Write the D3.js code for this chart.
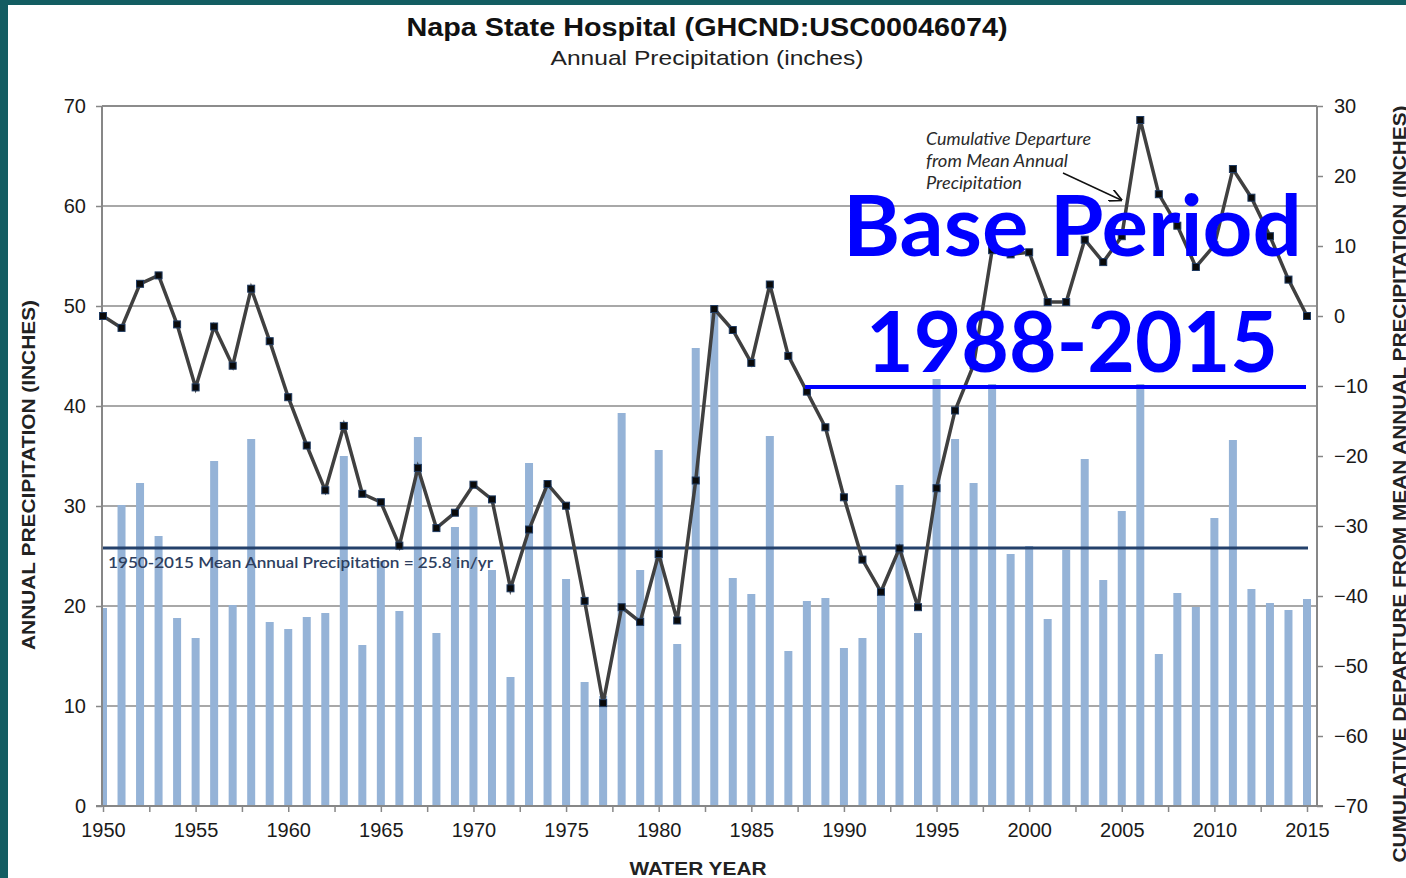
<!DOCTYPE html>
<html>
<meta charset="utf-8">
<head>
<style>
body { margin: 0; background: #fff; }
svg { display: block; }
.tick text { font-family: "Liberation Sans", Arial, sans-serif; fill: #1a1a1a; }
</style>
<script src="https://d3js.org/d3.v7.min.js"></script>
</head>
<body>
<script>
// water years
var years = d3.range(1950, 2016);

// annual precipitation (inches)
var precip = [19.8, 30.1, 32.3, 27.0, 18.8, 16.8, 34.5, 20.1, 36.7, 18.4,
              17.7, 18.9, 19.3, 35.0, 16.1, 24.5, 19.5, 36.9, 17.3, 27.9,
              29.9, 23.6, 12.9, 34.3, 32.2, 22.7, 12.4, 11.0, 39.3, 23.6,
              35.6, 16.2, 45.8, 49.4, 22.8, 21.2, 37.0, 15.5, 20.5, 20.8,
              15.8, 16.8, 21.2, 32.1, 17.3, 42.7, 36.7, 32.3, 42.2, 25.2,
              26.0, 18.7, 25.6, 34.7, 22.6, 29.5, 42.2, 15.2, 21.3, 19.9,
              28.8, 36.6, 21.7, 20.3, 19.6, 20.7];

// cumulative departure from mean (inches), right axis
var cumDep = [0.0, -1.7, 4.6, 5.8, -1.2, -10.2, -1.5, -7.1, 3.9, -3.6,
              -11.6, -18.5, -24.9, -15.7, -25.4, -26.6, -32.8, -21.7, -30.3, -28.1,
              -24.1, -26.2, -38.9, -30.5, -24.0, -27.1, -40.7, -55.3, -41.6, -43.7,
              -34.0, -43.5, -23.5, 1.0, -2.0, -6.7, 4.5, -5.7, -10.8, -15.9,
              -25.9, -34.8, -39.4, -33.2, -41.6, -24.6, -13.5, -7.0, 9.4, 8.8,
              9.1, 2.0, 2.0, 10.9, 7.7, 11.4, 28.0, 17.4, 12.9, 7.0,
              10.1, 21.0, 16.9, 11.4, 5.2, 0.0];

var meanPrecip = 25.8;
var leftTicks = [0, 10, 20, 30, 40, 50, 60, 70];
var rightTicks = [-70, -60, -50, -40, -30, -20, -10, 0, 10, 20, 30];
var yearTicks = d3.range(1950, 2016, 5);
var yearMinorTicks = d3.range(1950, 2016, 2.5);

var data = years.map(function(y, i) {
    return {year: y, precip: precip[i], dep: cumDep[i]};
});

var W = 1406, H = 878;
var plotLeft = 102, plotRight = 1317, plotTop = 106, plotBottom = 806;

var svg = d3.select("body").append("svg")
    .attr("width", W)
    .attr("height", H);

// teal slide frame
svg.append("rect").attr("width", W).attr("height", H).attr("fill", "#fff");
svg.append("rect").attr("x", 0).attr("y", 0).attr("width", 8).attr("height", H).attr("fill", "#135d62");
svg.append("rect").attr("x", 0).attr("y", 0).attr("width", W).attr("height", 5).attr("fill", "#135d62");

var x = d3.scaleLinear().domain([1950, 2015]).range([103, 1307]);
var yL = d3.scaleLinear().domain([0, 70]).range([plotBottom, plotTop]);
var yR = d3.scaleLinear().domain([-70, 30]).range([plotBottom, plotTop]);

// gridlines
svg.append("g")
    .selectAll("line")
    .data(leftTicks.slice(1))
    .enter().append("line")
    .attr("x1", plotLeft).attr("x2", plotRight)
    .attr("y1", function(d) { return yL(d); })
    .attr("y2", function(d) { return yL(d); })
    .attr("stroke", function(d) { return d == 70 ? "#8c8c8c" : "#a8a8a8"; })
    .attr("stroke-width", 2);

// bars
svg.append("clipPath").attr("id", "plotclip")
    .append("rect")
    .attr("x", plotLeft + 1).attr("y", plotTop)
    .attr("width", plotRight - plotLeft - 1).attr("height", plotBottom - plotTop);

svg.append("g")
    .attr("clip-path", "url(#plotclip)")
    .selectAll("rect")
    .data(data)
    .enter().append("rect")
    .attr("x", function(d) { return x(d.year) - 4; })
    .attr("width", 8)
    .attr("y", function(d) { return yL(d.precip); })
    .attr("height", function(d) { return yL(0) - yL(d.precip); })
    .attr("fill", "#95b3d7");

// mean line
svg.append("line")
    .attr("x1", x(1950)).attr("x2", x(2015) + 1)
    .attr("y1", yL(meanPrecip)).attr("y2", yL(meanPrecip))
    .attr("stroke", "#24416b")
    .attr("stroke-width", 3);

svg.append("text")
    .attr("x", 108)
    .attr("y", yL(meanPrecip) + 20)
    .attr("font-family", "Lato, 'Open Sans', sans-serif")
    .attr("font-size", 16)
    .attr("font-weight", 600)
    .attr("fill", "#2e3f5f")
    .attr("textLength", 385)
    .attr("lengthAdjust", "spacingAndGlyphs")
    .text("1950-2015 Mean Annual Precipitation = 25.8 in/yr");

// axes
var leftAxis = d3.axisLeft(yL).tickValues(leftTicks).tickSize(6).tickPadding(10);
var rightAxis = d3.axisRight(yR).tickValues(rightTicks).tickSize(6).tickPadding(11);
var bottomAxis = d3.axisBottom(x).tickValues(yearTicks).tickFormat(d3.format("d")).tickSize(0).tickPadding(17);
var bottomMinor = d3.axisBottom(x).tickValues(yearMinorTicks).tickFormat("").tickSize(6);

function styleAxis(g) {
    g.select(".domain").remove();
    g.selectAll(".tick line").attr("stroke", "#878787").attr("stroke-width", 1.5);
    g.selectAll(".tick text").attr("font-size", 20);
}

svg.append("g").attr("transform", "translate(" + plotLeft + ",0)").call(leftAxis).call(styleAxis);
svg.append("g").attr("transform", "translate(" + plotRight + ",0)").call(rightAxis).call(styleAxis);
svg.append("g").attr("transform", "translate(0," + plotBottom + ")").call(bottomMinor).call(styleAxis);
svg.append("g").attr("transform", "translate(0," + plotBottom + ")").call(bottomAxis).call(styleAxis);

// axis lines
svg.append("line").attr("x1", plotLeft).attr("x2", plotLeft).attr("y1", plotTop).attr("y2", plotBottom)
    .attr("stroke", "#878787").attr("stroke-width", 2);
svg.append("line").attr("x1", plotRight).attr("x2", plotRight).attr("y1", plotTop).attr("y2", plotBottom)
    .attr("stroke", "#878787").attr("stroke-width", 2);
svg.append("line").attr("x1", plotLeft - 6).attr("x2", plotRight + 6).attr("y1", plotBottom).attr("y2", plotBottom)
    .attr("stroke", "#878787").attr("stroke-width", 2);

// cumulative departure line
var line = d3.line()
    .x(function(d) { return x(d.year); })
    .y(function(d) { return yR(d.dep); });

svg.append("path")
    .datum(data)
    .attr("d", line)
    .attr("fill", "none")
    .attr("stroke", "#404040")
    .attr("stroke-width", 3.5)
    .attr("stroke-linejoin", "miter");

svg.append("g")
    .selectAll("rect")
    .data(data)
    .enter().append("rect")
    .attr("x", function(d) { return x(d.year) - 3.5; })
    .attr("y", function(d) { return yR(d.dep) - 3.5; })
    .attr("width", 7).attr("height", 7)
    .attr("fill", "#0a0a0a")
    .attr("stroke", "#1f3a60")
    .attr("stroke-width", 1);

// titles
svg.append("text")
    .attr("x", 707).attr("y", 36)
    .attr("text-anchor", "middle")
    .attr("font-family", "'Liberation Sans', Arial, sans-serif")
    .attr("font-weight", "bold")
    .attr("font-size", 26)
    .attr("fill", "#111")
    .attr("textLength", 601)
    .attr("lengthAdjust", "spacingAndGlyphs")
    .text("Napa State Hospital (GHCND:USC00046074)");

svg.append("text")
    .attr("x", 707).attr("y", 65)
    .attr("text-anchor", "middle")
    .attr("font-family", "'Liberation Sans', Arial, sans-serif")
    .attr("font-size", 21)
    .attr("fill", "#222")
    .attr("textLength", 313)
    .attr("lengthAdjust", "spacingAndGlyphs")
    .text("Annual Precipitation (inches)");

svg.append("text")
    .attr("text-anchor", "middle")
    .attr("transform", "translate(35,475) rotate(-90)")
    .attr("font-family", "'Liberation Sans', Arial, sans-serif")
    .attr("font-weight", "bold")
    .attr("font-size", 19)
    .attr("fill", "#222")
    .attr("textLength", 350)
    .attr("lengthAdjust", "spacingAndGlyphs")
    .text("ANNUAL PRECIPITATION (INCHES)");

svg.append("text")
    .attr("text-anchor", "middle")
    .attr("transform", "translate(1406,484) rotate(-90)")
    .attr("font-family", "'Liberation Sans', Arial, sans-serif")
    .attr("font-weight", "bold")
    .attr("font-size", 18)
    .attr("fill", "#222")
    .attr("textLength", 757)
    .attr("lengthAdjust", "spacingAndGlyphs")
    .text("CUMULATIVE DEPARTURE FROM MEAN ANNUAL  PRECIPITATION (INCHES)");

svg.append("text")
    .attr("x", 698).attr("y", 875)
    .attr("text-anchor", "middle")
    .attr("font-family", "'Liberation Sans', Arial, sans-serif")
    .attr("font-weight", "bold")
    .attr("font-size", 19)
    .attr("fill", "#222")
    .attr("textLength", 137)
    .attr("lengthAdjust", "spacingAndGlyphs")
    .text("WATER YEAR");

// annotation
var note = svg.append("text")
    .attr("font-family", "Lato, 'Open Sans', sans-serif")
    .attr("font-style", "italic")
    .attr("font-size", 17)
    .attr("fill", "#2a2a2a");
[["Cumulative Departure", 165], ["from Mean Annual", 142], ["Precipitation", 96]].forEach(function(s, i) {
    note.append("tspan")
        .attr("x", 926).attr("y", 145 + i * 22)
        .attr("textLength", s[1])
        .attr("lengthAdjust", "spacingAndGlyphs")
        .text(s[0]);
});

svg.append("defs").append("marker")
    .attr("id", "arrow")
    .attr("viewBox", "0 0 10 10")
    .attr("refX", 9).attr("refY", 5)
    .attr("markerWidth", 9).attr("markerHeight", 9)
    .attr("orient", "auto")
    .append("path")
    .attr("d", "M0,0 L10,5 L0,10")
    .attr("fill", "none")
    .attr("stroke", "#111")
    .attr("stroke-width", 1.4);

svg.append("line")
    .attr("x1", 1063).attr("y1", 173)
    .attr("x2", 1121).attr("y2", 200)
    .attr("stroke", "#111")
    .attr("stroke-width", 1.4)
    .attr("marker-end", "url(#arrow)");

// base period overlay
svg.append("text")
    .attr("x", 843).attr("y", 256)
    .attr("font-family", "Lato, 'Open Sans', sans-serif")
    .attr("font-weight", "bold")
    .attr("font-size", 84)
    .attr("fill", "#0000ff")
    .attr("textLength", 459)
    .attr("lengthAdjust", "spacingAndGlyphs")
    .text("Base Period");

svg.append("text")
    .attr("x", 866).attr("y", 372)
    .attr("font-family", "Lato, 'Open Sans', sans-serif")
    .attr("font-weight", "bold")
    .attr("font-size", 84)
    .attr("fill", "#0000ff")
    .attr("textLength", 412)
    .attr("lengthAdjust", "spacingAndGlyphs")
    .text("1988-2015");

svg.append("line")
    .attr("x1", 805).attr("x2", 1306)
    .attr("y1", 387).attr("y2", 387)
    .attr("stroke", "#0000ff")
    .attr("stroke-width", 4);
</script>
</body>
</html>
